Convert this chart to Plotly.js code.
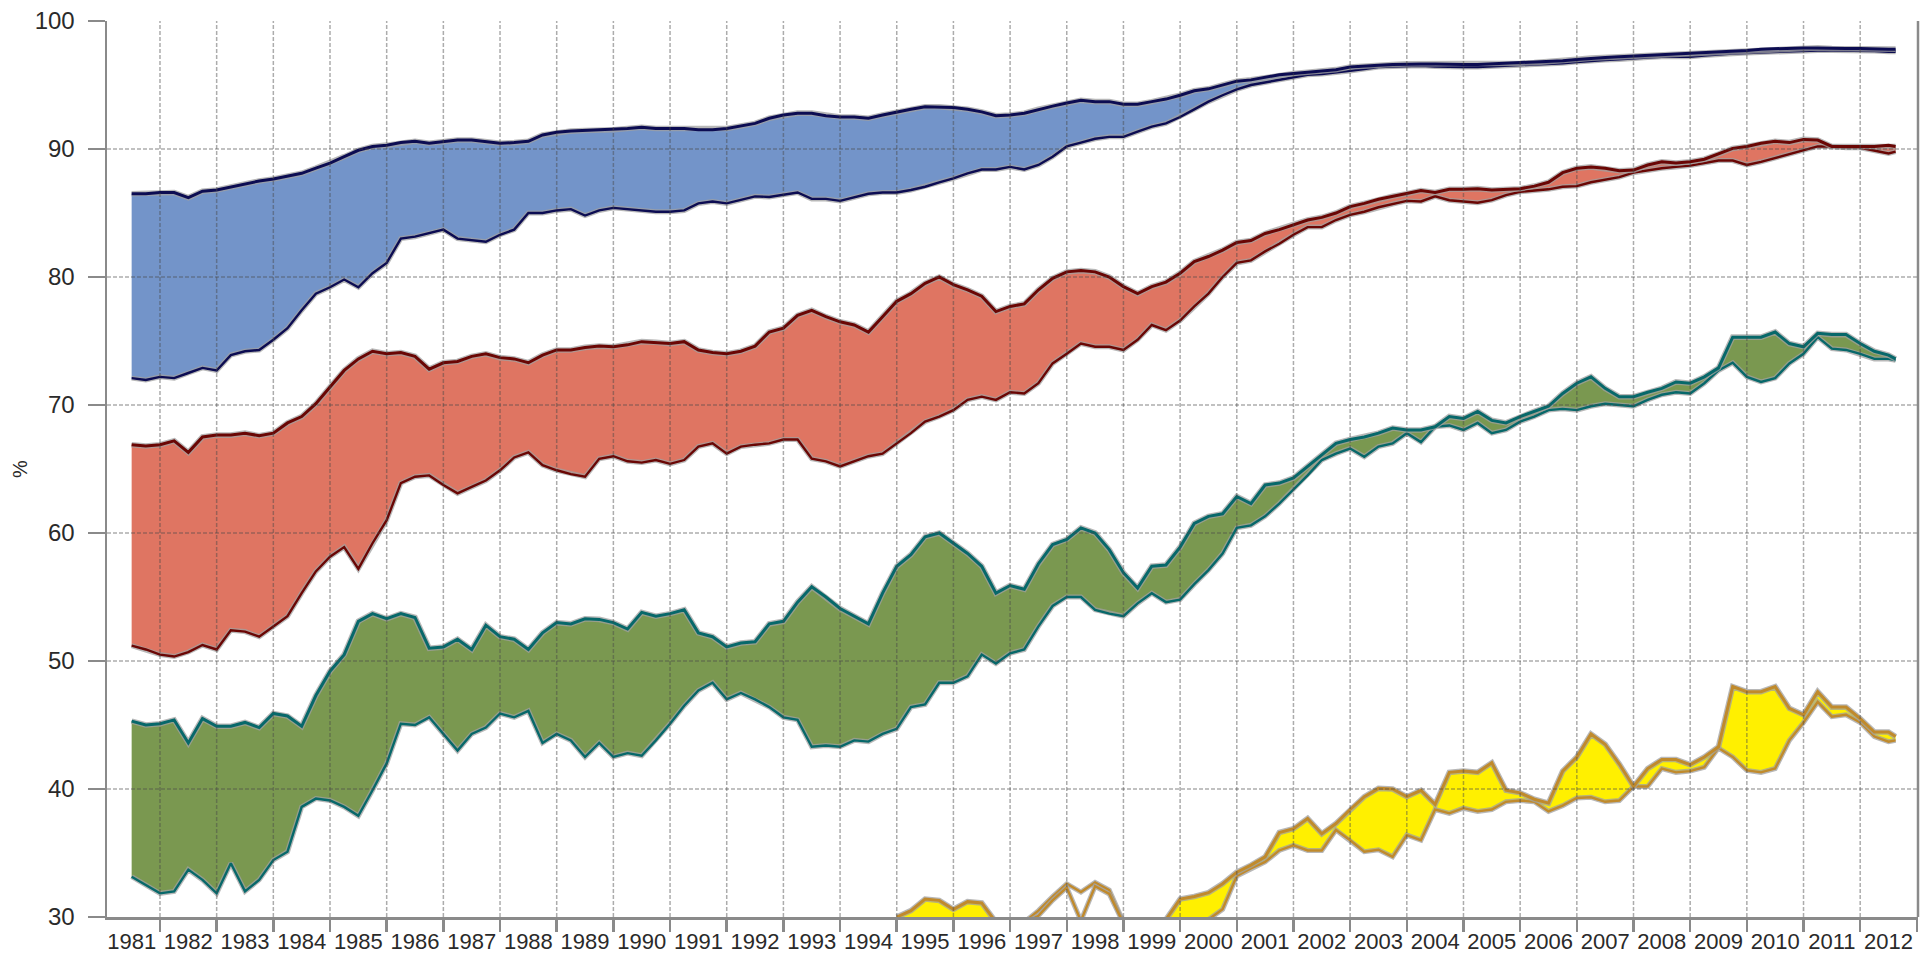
<!DOCTYPE html>
<html><head><meta charset="utf-8">
<script src="https://cdn.plot.ly/plotly-3.0.1.min.js"></script>
<style>html,body{margin:0;padding:0;background:#fff;}#chart{width:1930px;height:956px;}</style>
</head><body><div id="chart"></div>
<script>
const years = [1981.5, 1981.75,
 1982, 1982.25, 1982.5, 1982.75, 1983, 1983.25, 1983.5, 1983.75,
 1984, 1984.25, 1984.5, 1984.75, 1985, 1985.25, 1985.5, 1985.75,
 1986, 1986.25, 1986.5, 1986.75, 1987, 1987.25, 1987.5, 1987.75,
 1988, 1988.25, 1988.5, 1988.75, 1989, 1989.25, 1989.5, 1989.75,
 1990, 1990.25, 1990.5, 1990.75, 1991, 1991.25, 1991.5, 1991.75,
 1992, 1992.25, 1992.5, 1992.75, 1993, 1993.25, 1993.5, 1993.75,
 1994, 1994.25, 1994.5, 1994.75, 1995, 1995.25, 1995.5, 1995.75,
 1996, 1996.25, 1996.5, 1996.75, 1997, 1997.25, 1997.5, 1997.75,
 1998, 1998.25, 1998.5, 1998.75, 1999, 1999.25, 1999.5, 1999.75,
 2000, 2000.25, 2000.5, 2000.75, 2001, 2001.25, 2001.5, 2001.75,
 2002, 2002.25, 2002.5, 2002.75, 2003, 2003.25, 2003.5, 2003.75,
 2004, 2004.25, 2004.5, 2004.75, 2005, 2005.25, 2005.5, 2005.75,
 2006, 2006.25, 2006.5, 2006.75, 2007, 2007.25, 2007.5, 2007.75,
 2008, 2008.25, 2008.5, 2008.75, 2009, 2009.25, 2009.5, 2009.75,
 2010, 2010.25, 2010.5, 2010.75, 2011, 2011.25, 2011.5, 2011.75,
 2012, 2012.25, 2012.5, 2012.625];

const blueUpper = [86.5, 86.5,
 86.6, 86.6, 86.2, 86.7, 86.8, 87.05, 87.3, 87.5,
 87.65, 87.85, 88.1, 88.5, 88.9, 89.4, 89.9, 90.2,
 90.3, 90.5, 90.6, 90.45, 90.6, 90.7, 90.7, 90.6,
 90.45, 90.5, 90.6, 91.1, 91.3, 91.4, 91.45, 91.45,
 91.5, 91.6, 91.7, 91.6, 91.6, 91.6, 91.5, 91.5,
 91.6, 91.8, 92.0, 92.4, 92.65, 92.8, 92.8, 92.6,
 92.5, 92.5, 92.4, 92.65, 92.9, 93.1, 93.3, 93.3,
 93.25, 93.1, 92.9, 92.6, 92.65, 92.8, 93.1, 93.35,
 93.6, 93.8, 93.7, 93.7, 93.5, 93.5, 93.7, 93.9,
 94.2, 94.55, 94.7, 95.0, 95.3, 95.4, 95.6, 95.8,
 95.9, 96.0, 96.05, 96.2, 96.4, 96.5, 96.55, 96.6,
 96.65, 96.65, 96.65, 96.6, 96.6, 96.6, 96.65, 96.65,
 96.7, 96.75, 96.8, 96.9, 97.0, 97.1, 97.15, 97.2,
 97.25, 97.3, 97.4, 97.45, 97.5, 97.55, 97.6, 97.65,
 97.7, 97.8, 97.85, 97.9, 97.9, 97.9, 97.85, 97.85,
 97.85, 97.8, 97.8, 97.8];

const blueLower = [72.1, 71.95,
 72.2, 72.1, 72.5, 72.9, 72.7, 73.9, 74.2, 74.3,
 75.1, 76.0, 77.4, 78.7, 79.2, 79.8, 79.2, 80.3,
 81.1, 83.0, 83.15, 83.4, 83.7, 83.0, 82.9, 82.75,
 83.3, 83.7, 85.0, 85.0, 85.2, 85.3, 84.8, 85.2,
 85.4, 85.3, 85.2, 85.1, 85.1, 85.2, 85.75, 85.9,
 85.75, 86.0, 86.3, 86.25, 86.4, 86.6, 86.1, 86.1,
 85.95, 86.25, 86.5, 86.6, 86.6, 86.8, 87.05, 87.4,
 87.7, 88.1, 88.4, 88.4, 88.6, 88.4, 88.75, 89.4,
 90.2, 90.5, 90.8, 90.95, 90.95, 91.35, 91.75, 92.0,
 92.5, 93.1, 93.7, 94.2, 94.65, 95.0, 95.2, 95.4,
 95.65, 95.8, 95.85, 95.95, 96.1, 96.25, 96.4, 96.45,
 96.5, 96.5, 96.45, 96.4, 96.4, 96.4, 96.45, 96.5,
 96.5, 96.55, 96.6, 96.7, 96.8, 96.9, 96.95, 97.0,
 97.1, 97.15, 97.2, 97.2, 97.2, 97.3, 97.4, 97.45,
 97.5, 97.55, 97.6, 97.65, 97.7, 97.7, 97.7, 97.7,
 97.7, 97.65, 97.6, 97.6];

const redUpper = [66.9, 66.8,
 66.9, 67.2, 66.3, 67.5, 67.65, 67.65, 67.8, 67.6,
 67.8, 68.6, 69.1, 70.1, 71.4, 72.7, 73.6, 74.2,
 74.0, 74.1, 73.8, 72.8, 73.3, 73.4, 73.8, 74.0,
 73.7, 73.6, 73.3, 73.9, 74.3, 74.3, 74.5, 74.6,
 74.55, 74.7, 74.95, 74.9, 74.8, 74.95, 74.3, 74.1,
 74.0, 74.2, 74.6, 75.7, 76.0, 77.0, 77.4, 76.9,
 76.5, 76.25, 75.7, 76.9, 78.1, 78.7, 79.5, 80.0,
 79.4, 79.0, 78.5, 77.3, 77.7, 77.9, 79.0, 79.9,
 80.4, 80.5, 80.4, 80.0, 79.25, 78.7, 79.25, 79.6,
 80.3, 81.2, 81.6, 82.1, 82.7, 82.85, 83.4, 83.7,
 84.1, 84.45, 84.66, 85.0, 85.5, 85.75, 86.07, 86.3,
 86.5, 86.75, 86.6, 86.85, 86.85, 86.9, 86.8, 86.85,
 86.9, 87.1, 87.4, 88.15, 88.5, 88.6, 88.5, 88.3,
 88.35, 88.75, 89.0, 88.9, 89.0, 89.2, 89.6, 90.05,
 90.2, 90.45, 90.6, 90.5, 90.75, 90.7, 90.2, 90.2,
 90.2, 90.2, 90.3, 90.2];

const redLower = [51.2, 50.9,
 50.5, 50.35, 50.7, 51.25, 50.9, 52.4, 52.3, 51.9,
 52.7, 53.5, 55.3, 57.0, 58.15, 58.9, 57.2, 59.2,
 61.0, 63.9, 64.4, 64.5, 63.75, 63.1, 63.6, 64.1,
 64.9, 65.9, 66.3, 65.3, 64.9, 64.6, 64.4, 65.8,
 66.0, 65.6, 65.5, 65.7, 65.4, 65.7, 66.75, 67.0,
 66.2, 66.75, 66.9, 67.0, 67.3, 67.3, 65.8, 65.6,
 65.2, 65.6, 66.0, 66.2, 67.0, 67.8, 68.7, 69.1,
 69.6, 70.4, 70.65, 70.4, 71.0, 70.9, 71.7, 73.25,
 74.0, 74.8, 74.55, 74.55, 74.3, 75.1, 76.25, 75.85,
 76.6, 77.7, 78.7, 80.0, 81.1, 81.3, 82.0, 82.6,
 83.3, 83.9, 83.9, 84.45, 84.85, 85.1, 85.45, 85.7,
 85.95, 85.9, 86.3, 86.0, 85.9, 85.8, 86.0, 86.4,
 86.65, 86.75, 86.85, 87.05, 87.1, 87.4, 87.6, 87.8,
 88.15, 88.35, 88.5, 88.6, 88.7, 88.9, 89.1, 89.1,
 88.75, 89.0, 89.3, 89.6, 89.9, 90.2, 90.2, 90.1,
 90.1, 89.9, 89.65, 89.8];

const greenUpper = [45.3, 45.0,
 45.1, 45.4, 43.6, 45.5, 44.9, 44.9, 45.2, 44.8,
 45.9, 45.7, 44.9, 47.3, 49.2, 50.5, 53.1, 53.7,
 53.3, 53.7, 53.4, 51.0, 51.1, 51.7, 50.9, 52.8,
 51.9, 51.7, 50.9, 52.2, 53.0, 52.9, 53.3, 53.25,
 53.0, 52.5, 53.8, 53.5, 53.7, 54.0, 52.2, 51.9,
 51.1, 51.4, 51.5, 52.9, 53.1, 54.6, 55.8, 55.0,
 54.1, 53.5, 52.9, 55.3, 57.4, 58.3, 59.7, 60.0,
 59.2, 58.4, 57.4, 55.3, 55.9, 55.6, 57.6, 59.1,
 59.5, 60.4, 60.0, 58.7, 56.9, 55.7, 57.4, 57.5,
 58.9, 60.75, 61.3, 61.5, 62.85, 62.3, 63.75, 63.9,
 64.3, 65.2, 66.1, 67.0, 67.3, 67.5, 67.8, 68.2,
 68.05, 68.05, 68.3, 69.1, 68.95, 69.5, 68.8, 68.6,
 69.1, 69.5, 69.9, 70.9, 71.7, 72.2, 71.3, 70.65,
 70.65, 71.0, 71.3, 71.8, 71.7, 72.2, 72.9, 75.3,
 75.3, 75.3, 75.7, 74.8, 74.55, 75.6, 75.5, 75.5,
 74.8, 74.2, 73.9, 73.6];

const greenLower = [33.15, 32.5,
 31.85, 32.0, 33.7, 32.9, 31.85, 34.2, 32.0, 32.9,
 34.45, 35.1, 38.6, 39.25, 39.1, 38.6, 37.9, 39.9,
 42.0, 45.1, 45.0, 45.6, 44.3, 43.0, 44.3, 44.8,
 45.9, 45.6, 46.1, 43.6, 44.3, 43.8, 42.5, 43.6,
 42.5, 42.8, 42.6, 43.8, 45.1, 46.5, 47.7, 48.3,
 47.0, 47.5, 47.0, 46.4, 45.6, 45.4, 43.3, 43.4,
 43.3, 43.8, 43.7, 44.3, 44.7, 46.4, 46.6, 48.3,
 48.3, 48.8, 50.5, 49.8, 50.6, 50.9, 52.7, 54.3,
 55.0, 55.0, 54.0, 53.7, 53.5, 54.5, 55.3, 54.6,
 54.8, 56.0, 57.1, 58.4, 60.4, 60.6, 61.3, 62.3,
 63.4, 64.5, 65.7, 66.2, 66.6, 65.96, 66.75, 67.0,
 67.8, 67.1, 68.3, 68.4, 68.05, 68.6, 67.8, 68.05,
 68.7, 69.1, 69.6, 69.7, 69.6, 69.9, 70.1, 70.0,
 69.9, 70.4, 70.8, 71.0, 70.9, 71.7, 72.7, 73.3,
 72.2, 71.8, 72.1, 73.25, 74.0, 75.3, 74.4, 74.3,
 74.0, 73.6, 73.6, 73.5];

const yellowUpper = [null, null,
 null, null, null, null, null, null, null, null,
 null, null, null, null, null, null, null, null,
 null, null, null, null, null, null, null, null,
 null, null, null, null, null, null, null, null,
 null, null, null, null, null, null, null, null,
 null, null, null, null, null, null, null, null,
 null, null, null, null, 30.0, 30.5, 31.4, 31.3,
 30.6, 31.2, 31.1, 29.6, null, null, null, null,
 null, null, null, null, null, null, null, 29.8,
 31.4, 31.6, 31.9, 32.6, 33.5, 34.05, 34.7, 36.6,
 36.9, 37.7, 36.5, 37.3, 38.4, 39.4, 40.05, 40.0,
 39.4, 39.9, 38.8, 41.3, 41.4, 41.3, 42.05, 39.9,
 39.7, 39.2, 38.9, 41.4, 42.5, 44.3, 43.5, 41.95,
 40.2, 41.6, 42.3, 42.3, 41.9, 42.5, 43.3, 48.0,
 47.6, 47.6, 48.0, 46.3, 45.8, 47.6, 46.4, 46.4,
 45.5, 44.45, 44.45, 44.1];

const yellowLower = [null, null,
 null, null, null, null, null, null, null, null,
 null, null, null, null, null, null, null, null,
 null, null, null, null, null, null, null, null,
 null, null, null, null, null, null, null, null,
 null, null, null, null, null, null, null, null,
 null, null, null, null, null, null, null, null,
 null, null, null, null, 29.5, 29.5, 29.6, 29.6,
 29.6, 29.6, 29.6, 29.5, null, null, null, null,
 null, null, null, null, null, null, null, 29.5,
 29.5, 29.6, 29.8, 30.6, 33.2, 33.8, 34.3, 35.2,
 35.6, 35.2, 35.2, 36.8, 36.0, 35.1, 35.25, 34.7,
 36.4, 36.0, 38.4, 38.1, 38.5, 38.25, 38.4, 39.0,
 39.1, 39.0, 38.25, 38.7, 39.3, 39.35, 39.0, 39.1,
 40.2, 40.2, 41.6, 41.3, 41.4, 41.7, 43.2, 42.5,
 41.45, 41.3, 41.6, 43.8, 45.2, 46.8, 45.65, 45.8,
 45.2, 44.1, 43.7, 43.8];

// 1997-1999: the two yellow lines are drawn without fill
const yellowOpenA = [null, null,
 null, null, null, null, null, null, null, null,
 null, null, null, null, null, null, null, null,
 null, null, null, null, null, null, null, null,
 null, null, null, null, null, null, null, null,
 null, null, null, null, null, null, null, null,
 null, null, null, null, null, null, null, null,
 null, null, null, null, null, null, null, null,
 null, null, null, null, null, 29.6, 30.5, 31.6,
 32.6, 31.95, 32.7, 32.1, 29.6, null, null, null,
 null, null, null, null, null, null, null, null,
 null, null, null, null, null, null, null, null,
 null, null, null, null, null, null, null, null,
 null, null, null, null, null, null, null, null,
 null, null, null, null, null, null, null, null,
 null, null, null, null, null, null, null, null,
 null, null, null, null];

const yellowOpenB = [null, null,
 null, null, null, null, null, null, null, null,
 null, null, null, null, null, null, null, null,
 null, null, null, null, null, null, null, null,
 null, null, null, null, null, null, null, null,
 null, null, null, null, null, null, null, null,
 null, null, null, null, null, null, null, null,
 null, null, null, null, null, null, null, null,
 null, null, null, null, null, 29.5, 30.1, 31.3,
 32.3, 29.7, 32.4, 31.8, 29.5, null, null, null,
 null, null, null, null, null, null, null, null,
 null, null, null, null, null, null, null, null,
 null, null, null, null, null, null, null, null,
 null, null, null, null, null, null, null, null,
 null, null, null, null, null, null, null, null,
 null, null, null, null, null, null, null, null,
 null, null, null, null];

const yearLabels = ['1981','1982','1983','1984','1985','1986','1987','1988','1989','1990',
 '1991','1992','1993','1994','1995','1996','1997','1998','1999','2000',
 '2001','2002','2003','2004','2005','2006','2007','2008','2009','2010','2011','2012'];
const labelPositions = [1981.5,1982.5,1983.5,1984.5,1985.5,1986.5,1987.5,1988.5,1989.5,1990.5,
 1991.5,1992.5,1993.5,1994.5,1995.5,1996.5,1997.5,1998.5,1999.5,2000.5,
 2001.5,2002.5,2003.5,2004.5,2005.5,2006.5,2007.5,2008.5,2009.5,2010.5,2011.5,2012.5];
const yearBoundaries = [1982,1983,1984,1985,1986,1987,1988,1989,1990,1991,1992,1993,1994,1995,1996,1997,
 1998,1999,2000,2001,2002,2003,2004,2005,2006,2007,2008,2009,2010,2011,2012,2013];
const yTicks = [30, 40, 50, 60, 70, 80, 90, 100];
const yGrid = [40, 50, 60, 70, 80, 90];

const bands = [
  {lower: blueLower, upper: blueUpper, fill: '#7394c9', line: '#0c0c52', extra: []},
  {lower: redLower, upper: redUpper, fill: '#df7562', line: '#6a0604', extra: []},
  {lower: greenLower, upper: greenUpper, fill: '#7a9850', line: '#07686a', extra: []},
  {lower: yellowLower, upper: yellowUpper, fill: '#fff000', line: '#c08a2c', extra: [yellowOpenA, yellowOpenB]}
];

function runs(a, b) {
  const out = []; let s = -1;
  for (let i = 0; i <= years.length; i++) {
    const ok = i < years.length && a[i] !== null && b[i] !== null;
    if (ok && s < 0) s = i;
    if (!ok && s >= 0) { out.push([s, i]); s = -1; }
  }
  return out;
}

const traces = [];
bands.forEach(b => {
  runs(b.lower, b.upper).forEach(([s, e]) => {
    const xs = years.slice(s, e);
    traces.push({x: xs, y: b.lower.slice(s, e), type: 'scatter', mode: 'lines',
      line: {width: 0, color: b.fill}, hoverinfo: 'skip', showlegend: false});
    traces.push({x: xs, y: b.upper.slice(s, e), type: 'scatter', mode: 'lines', fill: 'tonexty',
      fillcolor: b.fill, line: {width: 0, color: b.fill}, hoverinfo: 'skip', showlegend: false});
  });
});
bands.forEach(b => {
  const series = [[b.lower, 2.4], [b.upper, 3.0]].concat(b.extra.map(s => [s, 2.4]));
  series.forEach(([ys, w]) => {
    traces.push({x: years, y: ys, type: 'scatter', mode: 'lines', connectgaps: false,
      line: {width: w + 2.6, color: 'rgba(160,160,160,0.75)'}, hoverinfo: 'skip', showlegend: false});
    traces.push({x: years, y: ys, type: 'scatter', mode: 'lines', connectgaps: false,
      line: {width: w, color: b.line}, hoverinfo: 'skip', showlegend: false});
  });
});

const gridStyle = {color: 'rgba(70,70,70,0.45)', width: 1.5, dash: '4px,2px'};
const shapes = [];
yearBoundaries.filter(v => v < 2013).forEach(v => shapes.push({type: 'line', xref: 'x', yref: 'paper',
  x0: v, x1: v, y0: 0, y1: 1, layer: 'above', line: gridStyle}));
yGrid.forEach(v => shapes.push({type: 'line', xref: 'paper', yref: 'y',
  x0: 0, x1: 1, y0: v, y1: v, layer: 'above', line: gridStyle}));
shapes.push({type: 'line', xref: 'paper', yref: 'paper', x0: 1, x1: 1, y0: 0, y1: 1,
  layer: 'above', line: {color: '#8a8a8a', width: 2.5}});

const axisGray = '#8a8a8a';
const layout = {
  width: 1930, height: 956,
  margin: {l: 107, r: 12, t: 21, b: 39},
  paper_bgcolor: '#ffffff', plot_bgcolor: '#ffffff',
  showlegend: false,
  font: {family: 'Liberation Sans, Arial, sans-serif', color: '#2a2a2a'},
  xaxis: {
    range: [1981.065, 2013.02], showgrid: false, zeroline: false,
    showline: true, linecolor: axisGray, linewidth: 2.5, layer: 'above traces',
    tickmode: 'array', tickvals: labelPositions, ticktext: yearLabels,
    ticks: '', ticklabelstandoff: 3,
    tickfont: {size: 22, color: '#2a2a2a'},
    minor: {tickmode: 'array', tickvals: yearBoundaries, ticks: 'outside', ticklen: 12,
      tickwidth: 2.5, tickcolor: axisGray, showgrid: false}
  },
  yaxis: {
    range: [30, 100], showgrid: false, zeroline: false,
    showline: true, linecolor: axisGray, linewidth: 2.5, layer: 'above traces',
    tickmode: 'array', tickvals: yTicks,
    ticks: 'outside', ticklen: 17, tickwidth: 2.5, tickcolor: axisGray,
    ticklabelstandoff: 8,
    tickfont: {size: 24, color: '#2a2a2a'},
    title: {text: '%', font: {size: 20, color: '#2a2a2a'}, standoff: 2}
  },
  shapes: shapes
};

Plotly.newPlot('chart', traces, layout, {displayModeBar: false, staticPlot: true});
</script>
</body></html>
